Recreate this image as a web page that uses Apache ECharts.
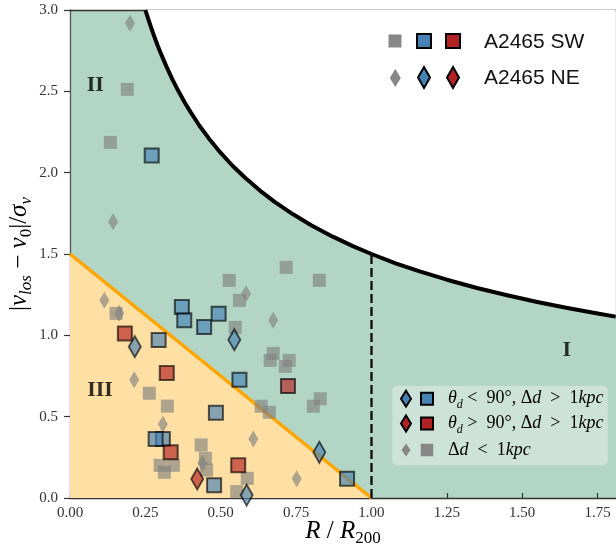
<!DOCTYPE html>
<html><head><meta charset="utf-8">
<script src="https://cdn.jsdelivr.net/npm/echarts@6/dist/echarts.min.js"></script>
<style>html,body{margin:0;padding:0;background:#fff}#c{width:616px;height:548px}</style>
</head><body><div id="c"></div>
<script>
// ---------- data ----------
const xTicks = [0, 0.25, 0.5, 0.75, 1.0, 1.25, 1.5, 1.75];
const yTicks = [0, 0.5, 1.0, 1.5, 2.0, 2.5, 3.0];

// escape-velocity boundary
const curveR = [0.25, 0.26, 0.27, 0.28, 0.29, 0.30, 0.32, 0.34, 0.36, 0.38, 0.40, 0.43, 0.46, 0.50, 0.54, 0.58,
  0.63, 0.68, 0.74, 0.80, 0.87, 0.94, 1.00, 1.08, 1.16, 1.25, 1.35, 1.45, 1.55, 1.65, 1.75, 1.81];
const curveV = [3.000, 2.942, 2.887, 2.835, 2.785, 2.739, 2.652, 2.572, 2.500, 2.433, 2.372, 2.287, 2.212, 2.121, 2.041, 1.970,
  1.890, 1.819, 1.744, 1.677, 1.608, 1.547, 1.500, 1.443, 1.393, 1.342, 1.291, 1.246, 1.205, 1.168, 1.134, 1.115];
const splitLineR = [0, 1.0];
const splitLineV = [1.5, 0];
const dashedR = [1.0, 1.0];
const dashedV = [0, 1.5];

// Δd < 1 kpc
const graySW = [[0.190,2.512],[0.134,2.186],[0.528,1.338],[0.717,1.418],[0.827,1.338],[0.562,1.215],[0.548,1.049],
  [0.674,0.889],[0.664,0.846],[0.727,0.846],[0.714,0.809],[0.830,0.610],[0.807,0.564],[0.634,0.564],[0.661,0.527],
  [0.153,1.135],[0.263,0.644],[0.323,0.565],[0.435,0.326],[0.449,0.244],[0.453,0.172],[0.299,0.201],[0.343,0.201],
  [0.313,0.158],[0.588,0.121],[0.553,0.039]];
const grayNE = [[0.199,2.918],[0.143,1.698],[0.114,1.215],[0.163,1.135],[0.584,1.256],[0.674,1.092],[0.213,0.727],
  [0.308,0.453],[0.608,0.363],[0.439,0.213],[0.752,0.119]];
// θd < 90°, Δd > 1 kpc
const blueSW = [[0.271,2.106],[0.371,1.174],[0.379,1.092],[0.445,1.051],[0.493,1.133],[0.294,0.971],[0.562,0.727],
  [0.484,0.524],[0.308,0.363],[0.284,0.363],[0.478,0.078],[0.919,0.119]];
const blueNE = [[0.215,0.930],[0.545,0.973],[0.827,0.281],[0.586,0.018]];
// θd > 90°, Δd > 1 kpc
const redSW = [[0.182,1.012],[0.321,0.768],[0.723,0.688],[0.334,0.281],[0.558,0.201]];
const redNE = [[0.422,0.117]];

const regionNames = ['I', 'II', 'III'];
const regionR = [1.648, 0.084, 0.0995];
const regionV = [0.910, 2.540, 0.664];

const legendTop = ['A2465 SW', 'A2465 NE'];

// ---------- styles ----------
const SERIF = "'Liberation Serif', 'DejaVu Serif', serif";
const SANS = "'Liberation Sans', 'DejaVu Sans', sans-serif";
const C = {
  gray: 'rgba(128,128,128,0.8)', blue: 'rgba(70,130,180,0.82)', red: 'rgba(178,34,34,0.82)',
  edge: 'rgba(0,0,0,0.8)', green: '#b3d5c5', orangeFill: '#fedfa4', orange: '#ffa500',
  legGray: '#878787', legBlue: '#4682b4', legRed: '#b22222'
};
const zip = (a, b) => a.map((v, i) => [v, b[i]]);

function sc(name, data, symbol, size, color, border) {
  return {
    type: 'scatter', name, data, symbol, symbolSize: size, silent: true, z: 10,
    itemStyle: { color, borderColor: border ? C.edge : 'transparent', borderWidth: border ? 2 : 0 },
    emphasis: { disabled: true }
  };
}

const mathRich = (main, sub) => ({
  i: { fontFamily: SERIF, fontStyle: 'italic', fontSize: main, lineHeight: main + 6, color: '#000' },
  n: { fontFamily: SERIF, fontSize: main, lineHeight: main + 6, color: '#000' },
  s: { fontFamily: SERIF, fontSize: sub, lineHeight: sub, verticalAlign: 'bottom', color: '#000' },
  si: { fontFamily: SERIF, fontStyle: 'italic', fontSize: sub, lineHeight: sub, verticalAlign: 'bottom', color: '#000' }
});

function diamond(cx, cy, w, h, fill, stroke) {
  return { type: 'polygon', shape: { points: [[cx, cy - h / 2], [cx + w / 2, cy], [cx, cy + h / 2], [cx - w / 2, cy]] },
    style: { fill, stroke: stroke ? '#000' : null, lineWidth: stroke ? 2 : 0 }, z: 100 };
}
function square(cx, cy, s, fill, stroke) {
  return { type: 'rect', shape: { x: cx - s / 2, y: cy - s / 2, width: s, height: s },
    style: { fill, stroke: stroke ? '#000' : null, lineWidth: stroke ? 2 : 0 }, z: 100 };
}
function mathText(x, y, text, size, sub) {
  return { type: 'text', x, y, z: 101, style: { text, verticalAlign: 'middle', align: 'left', rich: mathRich(size, sub) } };
}

const option = {
  animation: false,
  backgroundColor: '#fff',
  grid: { left: 70, right: 0, top: 10, bottom: 50, show: true, backgroundColor: C.green, borderWidth: 0,
    outerBoundsMode: 'none', containLabel: false },
  xAxis: [{
    type: 'value', min: 0, max: 1.811, position: 'bottom',
    axisLine: { show: true, onZero: false, lineStyle: { color: '#333', width: 1.3 } },
    axisTick: { show: true, inside: true, length: 5, customValues: xTicks, lineStyle: { color: '#333', width: 1.2 } },
    axisLabel: { customValues: xTicks, formatter: v => v.toFixed(2), fontFamily: SERIF, fontSize: 15, color: '#333', margin: 8 },
    splitLine: { show: false },
    name: '{i|R}{n| / }{i|R}{s|200}', nameLocation: 'middle', nameGap: 18, nameMoveOverlap: false,
    nameTextStyle: { rich: mathRich(25, 17) }
  }, {
    type: 'value', min: 0, max: 1.811, position: 'top',
    axisLine: { show: true, onZero: false, lineStyle: { color: '#333', width: 1.3 } },
    axisTick: { show: false }, axisLabel: { show: false }, splitLine: { show: false }
  }],
  yAxis: {
    type: 'value', min: 0, max: 3, interval: 0.5,
    axisLine: { show: true, onZero: false, lineStyle: { color: '#555', width: 1.3 } },
    axisTick: { show: true, length: 6, customValues: yTicks, lineStyle: { color: '#333', width: 1.2 } },
    axisLabel: { customValues: yTicks, formatter: v => v.toFixed(1), fontFamily: SERIF, fontSize: 15, color: '#333', margin: 12 },
    splitLine: { show: false },
    name: '{n||}{i|v}{si|los}{n| − }{i|v}{s|0}{n||/}{i|σ}{si|v}', nameLocation: 'middle', nameGap: 35, nameRotate: 90,
    nameMoveOverlap: false,
    nameTextStyle: { rich: mathRich(25, 17) }
  },
  series: [
    { type: 'line', data: zip(curveR, curveV), smooth: false, symbol: 'none', silent: true, z: 3,
      lineStyle: { color: '#000', width: 4, join: 'round' }, areaStyle: { color: '#fff', opacity: 1, origin: 'end' } },
    { type: 'line', data: zip(splitLineR, splitLineV), symbol: 'none', silent: true, z: 2,
      lineStyle: { color: C.orange, width: 3.5 }, areaStyle: { color: C.orangeFill, opacity: 1 } },
    { type: 'line', data: zip(dashedR, dashedV), symbol: 'none', silent: true, z: 3,
      lineStyle: { color: '#000', width: 2.2, type: [9, 4] } },
    sc('graySW', graySW, 'rect', 13, C.gray, false),
    sc('grayNE', grayNE, 'diamond', [10, 17], C.gray, false),
    sc('blueSW', blueSW, 'rect', 14, C.blue, true),
    sc('blueNE', blueNE, 'diamond', [12, 21], C.blue, true),
    sc('redSW', redSW, 'rect', 14, C.red, true),
    sc('redNE', redNE, 'diamond', [12, 21], C.red, true),
    { type: 'scatter', symbolSize: 0, silent: true, z: 12,
      data: regionNames.map((n, i) => ({ name: n, value: [regionR[i], regionV[i]] })),
      label: { show: true, position: 'inside', formatter: p => p.name, fontFamily: SERIF, fontWeight: 'bold', fontSize: 22, color: '#000' } }
  ],
  graphic: [
    square(395, 41, 13, C.legGray, false),
    square(424, 41, 14, C.legBlue, true),
    square(453, 41, 14, C.legRed, true),
    { type: 'text', x: 484, y: 42, z: 101, style: { text: legendTop[0], font: '21px ' + SANS, fill: '#111', verticalAlign: 'middle' } },
    diamond(395.3, 78, 11, 18, C.legGray, false),
    diamond(424, 77.5, 12, 21, C.legBlue, true),
    diamond(453, 77.5, 12, 21, C.legRed, true),
    { type: 'text', x: 484, y: 78, z: 101, style: { text: legendTop[1], font: '21px ' + SANS, fill: '#111', verticalAlign: 'middle' } },
    { type: 'rect', z: 99, shape: { x: 392.5, y: 386, width: 215, height: 79, r: 4 },
      style: { fill: 'rgba(255,255,255,0.35)', stroke: 'rgba(220,220,220,0.3)', lineWidth: 1 } },
    diamond(406, 398.7, 10, 16, C.legBlue, true),
    square(427, 398.7, 12, C.legBlue, true),
    mathText(448, 398.7, '{i|θ}{si|d}{n| <  90°, Δ}{i|d}{n|  >  1}{i|kpc}', 18, 12),
    diamond(406, 423.5, 10, 16, C.legRed, true),
    square(427, 423.5, 12, C.legRed, true),
    mathText(448, 423.5, '{i|θ}{si|d}{n| >  90°, Δ}{i|d}{n|  >  1}{i|kpc}', 18, 12),
    diamond(406, 450, 9, 13, C.legGray, false),
    square(427, 450, 12.5, C.legGray, false),
    mathText(448, 450, '{n|Δ}{i|d}{n|  <  1}{i|kpc}', 18, 12)
  ]
};
const chart = echarts.init(document.getElementById('c'));
chart.setOption(option);
</script>
</body></html>
